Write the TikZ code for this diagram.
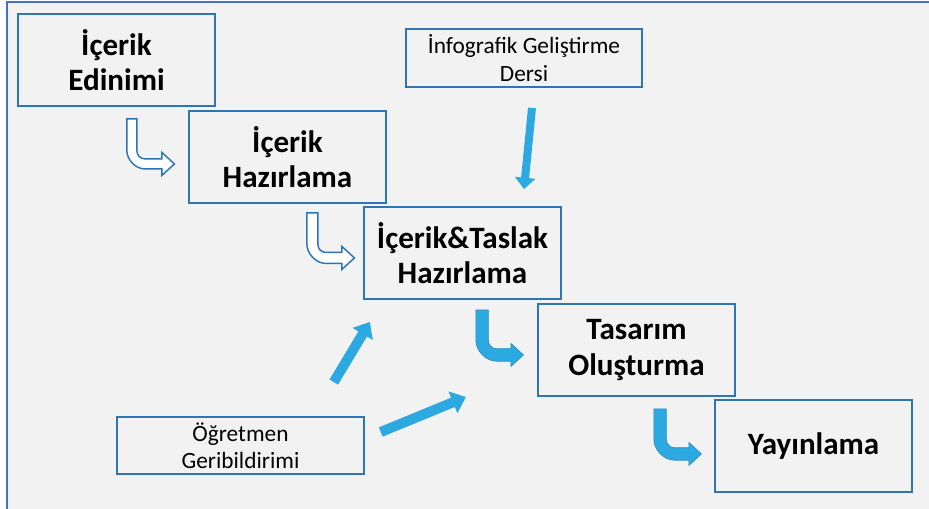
\documentclass[tikz,border=0pt]{standalone}
\usepackage{fontspec}
\setmainfont{Carlito}
\usepackage{tikz}
\usetikzlibrary{arrows.meta, calc}

\definecolor{boxblue}{HTML}{2E75B6}
\definecolor{arrowblue}{HTML}{2DA9E1}
\definecolor{frameblue}{HTML}{4472C4}
\definecolor{canvas}{HTML}{F2F2F2}

% bent block arrow: #1 style, #2 top left of the shaft, #3 shaft width
\newcommand{\bentarrow}[3]{%
  \begin{scope}[shift={(#2)}]
    \path[#1] (0,0) -- (#3,0) -- (#3,{45-#3/2-8})
      .. controls (#3,{45-#3/2-3.6}) and ({#3+3.6},{45-#3/2}) .. ({#3+8},{45-#3/2})
      -- (35,{45-#3/2}) -- (35,33.5) -- (47.5,45) -- (35,56.5) -- (35,{45+#3/2})
      -- ({#3+8},{45+#3/2})
      .. controls ({0.448*(#3+8)},{45+#3/2}) and (0,{45+#3/2-0.552*(#3+8)}) .. (0,{45-#3/2-8})
      -- cycle;
  \end{scope}}

\begin{document}
\begin{tikzpicture}[x=0.75pt, y=-0.75pt,
    box/.style={draw=boxblue, line width=1.4pt, rectangle, minimum width=148pt, minimum height=69pt, inner sep=0pt, align=center, font=\fontsize{23.3}{26.5}\selectfont\bfseries},
    smallbox/.style={box, font=\fontsize{17.5}{20.5}\selectfont},
    hollow/.style={fill=white, draw=boxblue, line width=1.1pt},
    filled/.style={fill=arrowblue, draw=arrowblue!85!black, line width=0.5pt},
    fatarrow/.style={draw=arrowblue, line width=7.5pt, -{Triangle[length=10.5pt, width=17pt]}}
]
    \useasboundingbox (0,0) rectangle (929,509);
    \fill[canvas] (6,2) rectangle (929,509);
    \draw[frameblue, line width=1.5pt] (6.5,509) -- (6.5,2.5) -- (929,2.5);

    % steps
    \node[box] (edinim) at (116.5,60) {İçerik\\Edinimi};
    \node[box] (hazir) at (287.5,157) {İçerik\\Hazırlama};
    \node[box] (taslak) at (462.5,253) {İçerik\&Taslak\\Hazırlama};
    \node[box] (tasarim) at (636.5,350) {Tasarım\\Oluşturma};
    \node[box] (yayin) at (813.5,446) {Yayınlama};

    % inputs
    \node[smallbox, minimum width=177pt, minimum height=43.5pt] (ders) at (524,58) {İnfografik Geliştirme\\Dersi};
    \node[smallbox, minimum width=185pt, minimum height=42.75pt] (ogretmen) at (240.5,445.5) {Öğretmen\\Geribildirimi};

    % bent arrows between the steps
    \bentarrow{hollow}{$(edinim.south west)+(110,12)$}{10}
    \bentarrow{hollow}{$(hazir.south west)+(119,9)$}{11}
    \bentarrow{filled}{$(taslak.south west)+(113,10)$}{12.5}
    \bentarrow{filled}{$(tasarim.south west)+(117,12)$}{12.5}

    \draw[fatarrow, line width=6pt, -{Triangle[length=8.5pt, width=15pt]}] ($(ders.south)+(8,20)$) -- ($(taslak.north)+(61.5,-17)$);
    \draw[fatarrow] ($(ogretmen.north east)+(-31,-34)$) -- ($(taslak.south west)+(7,22)$);
    \draw[fatarrow] ($(ogretmen.east)+(16,-13.5)$) -- ($(tasarim.west)+(-71,47)$);
\end{tikzpicture}
\end{document}
